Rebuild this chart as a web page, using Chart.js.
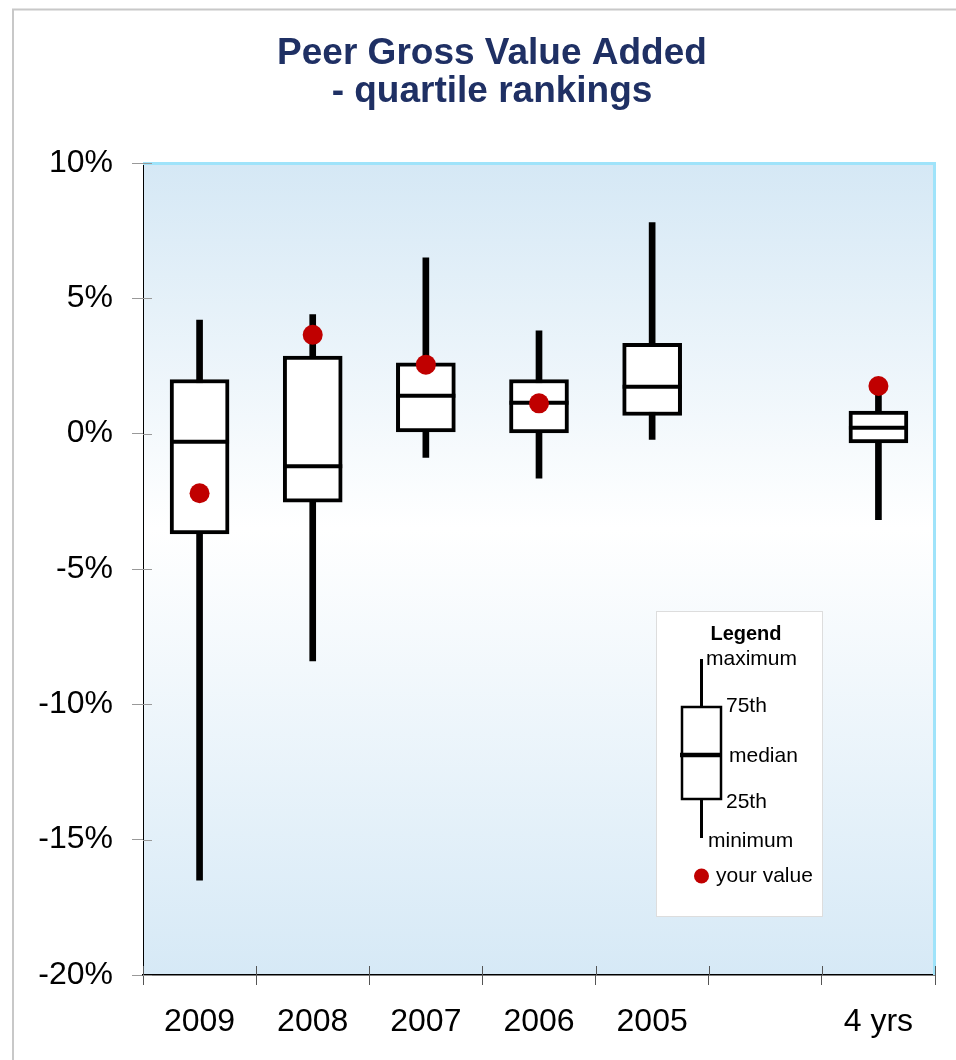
<!DOCTYPE html>
<html>
<head>
<meta charset="utf-8">
<script src="https://cdn.jsdelivr.net/npm/chart.js@4/dist/chart.umd.min.js"></script>
<style>
  html, body { margin: 0; padding: 0; background: #ffffff; }
  #wrap { width: 956px; height: 1060px; }
</style>
</head>
<body>
<div id="wrap"><canvas id="c" width="956" height="1060"></canvas></div>
<script>
// ---- data (percent) ----
const titleLines = ['Peer Gross Value Added', '- quartile rankings'];
const categories = ['2009', '2008', '2007', '2006', '2005', '', '4 yrs'];
const maximum   = [4.2, 4.4, 6.5, 3.8, 7.8, null, 1.7];
const q75       = [2.0, 2.87, 2.62, 2.0, 3.34, null, 0.83];
const medians   = [-0.3, -1.2, 1.4, 1.14, 1.73, null, 0.22];
const q25       = [-3.7, -2.53, 0.06, 0.03, 0.67, null, -0.34];
const minimum   = [-16.5, -8.4, -0.88, -1.64, -0.21, null, -3.18];
const yourValue = [-2.2, 3.65, 2.55, 1.12, null, null, 1.76];
const yTicks    = [-20, -15, -10, -5, 0, 5, 10];

const FONT = "'Liberation Sans', Arial, Helvetica, sans-serif";

const whiskerData = categories.map((c, i) => maximum[i] == null ? null : [minimum[i], maximum[i]]);
const boxData = categories.map((c, i) => q75[i] == null ? null : [q25[i], q75[i]]);

const decor = {
  id: 'decor',
  beforeDraw(chart) {
    const ctx = chart.ctx, a = chart.chartArea;
    ctx.save();
    // outer frame
    ctx.strokeStyle = '#c8c8c8';
    ctx.lineWidth = 2;
    ctx.beginPath();
    ctx.moveTo(13, 1060); ctx.lineTo(13, 9.5); ctx.lineTo(956, 9.5);
    ctx.stroke();
    // title
    ctx.fillStyle = '#1f3064';
    ctx.font = 'bold 37px ' + FONT;
    ctx.textAlign = 'center';
    ctx.textBaseline = 'alphabetic';
    ctx.fillText(titleLines[0], 492, 64);
    ctx.fillText(titleLines[1], 492, 102);
    // plot background gradient
    const g = ctx.createLinearGradient(0, a.top, 0, a.bottom);
    g.addColorStop(0, '#d5e8f5');
    g.addColorStop(0.45, '#ffffff');
    g.addColorStop(1, '#d6e9f6');
    ctx.fillStyle = g;
    ctx.fillRect(a.left, a.top, a.right - a.left, a.bottom - a.top);
    ctx.restore();
  },
  afterDraw(chart) {
    const ctx = chart.ctx, a = chart.chartArea;
    ctx.save();
    // top and right plot border (cyan)
    ctx.strokeStyle = '#9fe3fa';
    ctx.lineWidth = 3;
    ctx.beginPath();
    ctx.moveTo(a.left, a.top + 0.5); ctx.lineTo(a.right - 0.5, a.top + 0.5); ctx.lineTo(a.right - 0.5, a.bottom);
    ctx.stroke();
    // inner tick stubs
    const ys = chart.scales.y;
    ctx.strokeStyle = '#999999';
    ctx.lineWidth = 1;
    ys.ticks.forEach(t => {
      const p = Math.round(ys.getPixelForValue(t.value)) + 0.5;
      ctx.beginPath(); ctx.moveTo(a.left, p); ctx.lineTo(a.left + 9, p); ctx.stroke();
    });
    ctx.strokeStyle = '#555555';
    for (let i = 0; i <= categories.length; i++) {
      const p = Math.round(a.left + (a.right - a.left) * i / categories.length) + 0.5;
      ctx.beginPath(); ctx.moveTo(p, a.bottom - 9); ctx.lineTo(p, a.bottom); ctx.stroke();
    }
    // legend panel
    const L = 656, T = 611, W = 166, H = 305;
    ctx.fillStyle = '#ffffff';
    ctx.fillRect(L, T, W, H);
    ctx.strokeStyle = '#dddddd';
    ctx.lineWidth = 1;
    ctx.strokeRect(L + 0.5, T + 0.5, W, H);
    ctx.fillStyle = '#000000';
    ctx.textBaseline = 'middle';
    ctx.textAlign = 'center';
    ctx.font = 'bold 20px ' + FONT;
    ctx.fillText('Legend', 746, 634);
    // glyph
    ctx.strokeStyle = '#000000';
    ctx.lineWidth = 3;
    ctx.beginPath(); ctx.moveTo(701.5, 659); ctx.lineTo(701.5, 707); ctx.stroke();
    ctx.beginPath(); ctx.moveTo(701.5, 799); ctx.lineTo(701.5, 838); ctx.stroke();
    ctx.lineWidth = 2.5;
    ctx.strokeRect(682, 707, 39, 92);
    ctx.lineWidth = 4.5;
    ctx.beginPath(); ctx.moveTo(680, 755); ctx.lineTo(722, 755); ctx.stroke();
    ctx.fillStyle = '#c00000';
    ctx.beginPath(); ctx.arc(701.5, 876, 7.5, 0, Math.PI * 2); ctx.fill();
    ctx.fillStyle = '#000000';
    ctx.textAlign = 'left';
    ctx.font = '21px ' + FONT;
    ctx.fillText('maximum', 706, 659);
    ctx.fillText('75th', 726, 706);
    ctx.fillText('median', 729, 756);
    ctx.fillText('25th', 726, 802);
    ctx.fillText('minimum', 708, 841);
    ctx.fillText('your value', 716, 876);
    ctx.restore();
  }
};

new Chart(document.getElementById('c'), {
  type: 'bar',
  data: {
    labels: categories,
    datasets: [
      {
        label: 'your value',
        type: 'line',
        data: yourValue,
        showLine: false,
        pointStyle: 'circle',
        pointRadius: 10,
        pointBorderWidth: 0,
        pointBackgroundColor: '#c00000',
        pointBorderColor: '#c00000',
        order: 0
      },
      {
        label: 'median',
        type: 'line',
        data: medians,
        showLine: false,
        pointStyle: 'line',
        pointRadius: 29.5,
        pointBorderWidth: 4,
        pointBorderColor: '#000000',
        pointBackgroundColor: '#000000',
        order: 1
      },
      {
        label: 'quartiles',
        data: boxData,
        backgroundColor: '#ffffff',
        borderColor: '#000000',
        borderWidth: 4,
        borderSkipped: false,
        barThickness: 59,
        grouped: false,
        order: 2
      },
      {
        label: 'range',
        data: whiskerData,
        backgroundColor: '#000000',
        borderWidth: 0,
        barThickness: 6,
        grouped: false,
        order: 3
      }
    ]
  },
  options: {
    responsive: false,
    animation: false,
    events: [],
    layout: { autoPadding: false, padding: { left: 28, right: 21, top: 163, bottom: 0 } },
    plugins: {
      legend: { display: false },
      tooltip: { enabled: false },
      title: { display: false }
    },
    scales: {
      x: {
        offset: true,
        grid: { display: true, drawOnChartArea: false, offset: true, tickLength: 10, color: '#555555' },
        border: { display: true, color: '#000000', width: 1.5 },
        ticks: { color: '#000000', font: { family: FONT, size: 32 }, padding: 18, maxRotation: 0, autoSkip: false },
        afterFit(s) { s.height = 85; s.paddingLeft = 0; s.paddingRight = 0; }
      },
      y: {
        min: -20,
        max: 10,
        afterBuildTicks(s) { s.ticks = yTicks.map(v => ({ value: v })); },
        grid: { display: true, drawOnChartArea: false, tickLength: 11, color: '#999999' },
        border: { display: true, color: '#000000', width: 1 },
        ticks: { color: '#000000', font: { family: FONT, size: 32 }, padding: 19, callback: v => v + '%' },
        afterFit(s) { s.width = 115; s.paddingTop = 0; s.paddingBottom = 0; }
      }
    }
  },
  plugins: [decor]
});
</script>
</body>
</html>
